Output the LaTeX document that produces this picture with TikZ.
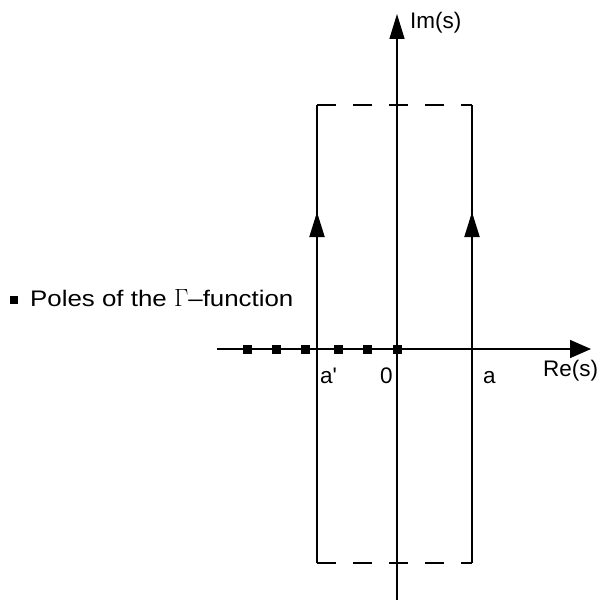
\documentclass[tikz,border=0pt]{standalone}
\usepackage{fontspec}
\setmainfont{Liberation Sans}
\usetikzlibrary{arrows.meta}
\begin{document}
\begin{tikzpicture}[x=1pt,y=-1pt,
  axis/.style={line width=1.5pt},
  contour/.style={line width=2pt},
  dashline/.style={line width=2pt, dash pattern=on 19pt off 17pt},
  vtip/.style={-{Triangle[length=25pt,width=15pt]}},
  htip/.style={-{Triangle[length=21pt,width=18pt]}},
  pole/.style={fill=black, minimum size=9pt, inner sep=0pt, draw=none},
  lbl/.style={font=\fontsize{22.5}{26}\selectfont, inner sep=0pt}]
\useasboundingbox (0,0) rectangle (599,602);
% axes
\coordinate (xl) at (217,349);
\coordinate (xr) at (591,349);
\coordinate (yb) at (397,600);
\coordinate (yt) at (397,14);
\draw[axis,htip] (xl) -- (xr);
\draw[axis,vtip] (yb) -- (yt);
% contour corners
\coordinate (lb) at (317,563);
\coordinate (lt) at (317,105);
\coordinate (rb) at (472,563);
\coordinate (rt) at (472,105);
\coordinate (lm) at (317,237);
\coordinate (lmt) at (317,212);
\coordinate (rm) at (472,237);
\coordinate (rmt) at (472,212);
\draw[contour] (lb) -- (lt);
\draw[contour] (rb) -- (rt);
\draw[contour,vtip] (lm) -- (lmt);
\draw[contour,vtip] (rm) -- (rmt);
\draw[dashline] (lt) -- (rt);
\draw[dashline] (lb) -- (rb);
% poles
\node[pole] (p1) at (247,349) {};
\node[pole] (p2) at (276,349) {};
\node[pole] (p3) at (305,349) {};
\node[pole] (p4) at (338,349) {};
\node[pole] (p5) at (367,349) {};
\node[pole] (p6) at (397,349) {};
% labels
\node[lbl,anchor=base west] (ap) at (320,383) {a\textquotesingle};
\node[lbl,anchor=base west] (zero) at (380,383) {0};
\node[lbl,anchor=base west] (a) at (483,383) {a};
\node[lbl,anchor=base west] (re) at (543,376) {Re(s)};
\node[lbl,anchor=base west] (im) at (410,29) {Im(s)};
% legend
\node[pole,minimum size=8pt] (leg) at (14,299.5) {};
\node[lbl,anchor=base west] (legtext) at (30,306) {\addfontfeature{FakeStretch=1.15}Poles of the {\fontsize{24}{26}\selectfont$\Gamma$}--function};
\end{tikzpicture}
\end{document}
